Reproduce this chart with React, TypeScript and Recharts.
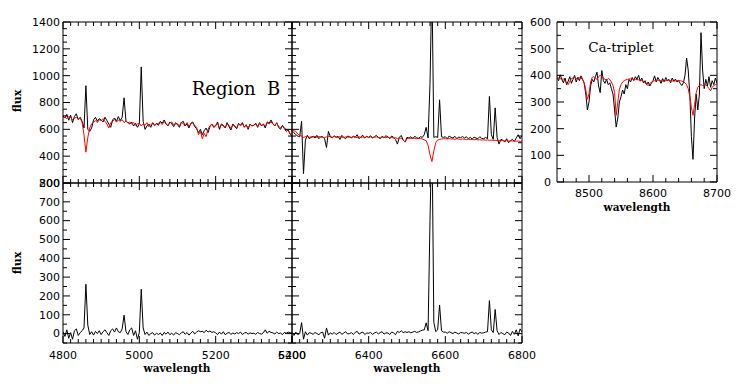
import { Line, LineChart, ReferenceArea, XAxis, YAxis } from "recharts";

// Region B (4800-5400 A), sampled every 5 A
const B_START = 4800;
const B_STEP = 5;
const regionBObs = [
  700, 685, 712, 668, 705, 650, 695, 716, 672, 690,
  660, 610, 925, 600, 585, 610, 670, 690, 660, 680,
  670, 655, 690, 665, 640, 615, 670, 685, 660, 695,
  665, 690, 835, 660, 650, 640, 655, 625, 645, 615,
  640, 1065, 660, 600, 625, 640, 615, 650, 630, 645,
  630, 660, 645, 670, 640, 625, 655, 640, 620, 650,
  635, 615, 650, 660, 625, 640, 610, 645, 655, 620,
  605, 575, 600, 560, 590, 610, 575, 620, 640, 615,
  625, 655, 600, 640, 630, 610, 650, 620, 595, 640,
  620, 605, 645, 630, 650, 615, 635, 600, 640, 625,
  630, 645, 615, 650, 625, 640, 610, 655, 645, 670,
  640, 625, 650, 615, 600, 630, 605, 585, 595, 565, 550,
];
const regionBFit = [
  685, 690, 680, 695, 688, 672, 684, 690, 676, 682,
  655, 560, 430, 540, 610, 640, 655, 665, 650, 672,
  665, 680, 660, 640, 610, 650, 660, 675, 655, 668,
  660, 672, 650, 662, 648, 655, 640, 650, 630, 640,
  645, 625, 640, 630, 650, 620, 635, 645, 628, 640,
  645, 652, 635, 660, 640, 630, 648, 655, 632, 640,
  642, 625, 655, 640, 630, 650, 622, 640, 648, 630,
  615, 560, 585, 530, 570, 545, 600, 625, 640, 620,
  630, 645, 610, 635, 625, 615, 640, 630, 605, 632,
  625, 612, 640, 628, 638, 620, 632, 610, 635, 628,
  630, 640, 620, 645, 630, 638, 625, 648, 640, 655,
  640, 630, 645, 622, 610, 625, 612, 598, 590, 570, 545,
];
const regionBRes = [
  10, -15, 20, -25, 5, -30, 15, 25, -10, 5,
  15, 30, 262, 45, -5, 10, -8, 12, 0, 15,
  -5, 10, 20, 5, -10, 15, 25, 8, 30, 10,
  5, 25, 98, 10, -5, 20, 30, -10, 15, -30,
  5, 236, 30, -5, 8, -10, 0, 5, -8, 2,
  -5, 3, -10, 6, -3, 8, -6, 2, -8, 5,
  0, -6, 4, 10, -4, 6, -8, 3, 12, -2,
  8, 15, 10, 12, 5, 18, 8, 14, 6, 10,
  4, -5, 8, -3, 10, -6, 2, 6, -4, 3,
  -2, 5, 0, 8, -5, 3, 6, -3, 4, 0,
  2, -4, 6, 0, -3, 5, 20, 2, 12, 6,
  4, -2, 8, 0, 3, -5, 6, 2, 8, 4, 5,
];

// H-alpha region (6200-6800 A), sampled every 5 A
const HA_START = 6200;
const HA_STEP = 5;
const haObs = [
  590, 575, 560, 550, 545, 660, 270, 520, 555, 530,
  540, 548, 535, 555, 530, 545, 545, 530, 465, 585,
  545, 538, 552, 540, 548, 525, 555, 540, 530, 550,
  545, 535, 550, 540, 560, 530, 545, 555, 535, 548,
  540, 552, 535, 545, 555, 540, 530, 548, 538, 552,
  545, 530, 550, 540, 525, 490, 540, 555, 520, 505,
  540, 535, 545, 530, 548, 538, 532, 545, 540, 560,
  615, 535, 940, 1700, 540, 545, 540, 820, 545, 540,
  545, 530, 550, 540, 535, 548, 530, 542, 538, 546,
  535, 545, 530, 540, 528, 542, 535, 530, 545, 532,
  530, 540, 530, 845, 560, 525, 760, 540, 490, 525,
  520, 505, 530, 500, 515, 525, 510, 535, 560, 530, 555,
];
const haFit = [
  600, 590, 585, 565, 555, 550, 540, 545, 548, 540,
  545, 542, 548, 540, 546, 543, 540, 538, 544, 547,
  545, 541, 546, 543, 540, 545, 542, 538, 544, 541,
  543, 540, 545, 542, 538, 544, 540, 543, 539, 545,
  540, 543, 538, 541, 544, 539, 536, 542, 540, 538,
  541, 537, 540, 535, 538, 530, 536, 534, 520, 505,
  530, 535, 532, 536, 533, 530, 534, 531, 528, 520,
  515, 480, 410, 360, 440, 500, 520, 525, 528, 530,
  530, 528, 531, 527, 529, 526, 530, 527, 525, 528,
  526, 524, 527, 523, 525, 522, 524, 521, 523, 520,
  522, 519, 521, 518, 520, 517, 519, 516, 518, 515,
  517, 514, 516, 513, 515, 512, 514, 511, 513, 510, 512,
];
const haRes = [
  5, -10, 8, -5, 0, 58, -30, 10, -8, 5,
  2, -4, 6, 0, -6, 4, 8, -25, 30, -8,
  4, -3, 6, -5, 2, 8, -4, 3, 10, -2,
  0, 5, -4, 6, 12, -3, 4, 8, -5, 3,
  2, 6, -4, 3, 8, -2, 5, 10, -3, 4,
  3, -5, 8, 4, -6, 12, 6, 15, 5, 10,
  6, 10, 4, 8, 12, 6, 9, 14, 18, 20,
  57, 15, 600, 1100, 60, 10, 20, 152, 15, 8,
  8, 2, 10, 5, 0, 8, 3, -2, 6, 4,
  2, 6, -3, 4, 8, 0, 5, -4, 6, 2,
  4, 8, 10, 175, 20, 5, 128, 15, -5, 6,
  0, -6, 8, 3, -10, 12, -4, 20, -12, 25, 8,
];

// Ca-triplet (8450-8700 A), sampled every 2.5 A
const CA_START = 8450;
const CA_STEP = 2.5;
const caObs = [
  395, 380, 402, 385, 372, 390, 365, 378, 395, 370,
  385, 400, 375, 392, 380, 398, 385, 370, 330, 270,
  300, 360, 385, 375, 395, 412, 360, 335, 418, 380,
  370, 385, 365, 372, 350, 330, 270, 206, 240, 300,
  320, 345, 330, 365, 350, 385, 375, 392, 380, 395,
  385, 400, 378, 390, 372, 380, 365, 375, 360, 370,
  380, 398, 375, 392, 383, 370, 388, 376, 392, 380,
  385, 372, 390, 378, 386, 375, 380, 370, 362, 372,
  400, 465, 420, 330, 170, 85, 240, 330, 270, 330,
  560, 420, 350, 385, 360, 395, 355, 380, 365, 390,
  370,
];
const caFit = [
  392, 390, 388, 385, 386, 380, 372, 365, 378, 388,
  390, 392, 388, 390, 391, 389, 385, 372, 345, 310,
  330, 375, 392, 395, 390, 385, 395, 400, 398, 390,
  385, 382, 388, 384, 375, 362, 335, 250, 300, 348,
  365, 375, 380, 383, 385, 386, 387, 386, 385, 384,
  384, 383, 382, 380, 378, 372, 365, 362, 368, 375,
  378, 380, 381, 382, 381, 380, 379, 378, 380, 381,
  381, 380, 379, 378, 379, 380, 381, 380, 378, 376,
  372, 365, 350, 320, 280, 250, 290, 335, 355, 362,
  365, 362, 360, 365, 358, 350, 342, 355, 362, 365,
  368,
];

// labelled (major) ticks
const bWaveMajor = [4800, 5000, 5200, 5400];
const haWaveMajor = [6200, 6400, 6600, 6800];
const caWaveMajor = [8500, 8600, 8700];
const topFluxMajor = [200, 400, 600, 800, 1000, 1200, 1400];
const resFluxMajor = [0, 100, 200, 300, 400, 500, 600, 700, 800];
const caFluxMajor = [0, 100, 200, 300, 400, 500, 600];

const regionBRows = regionBObs.map((obs, i) => ({
  w: B_START + i * B_STEP,
  obs,
  fit: regionBFit[i],
  res: regionBRes[i],
}));
const haRows = haObs.map((obs, i) => ({
  w: HA_START + i * HA_STEP,
  obs,
  fit: haFit[i],
  res: haRes[i],
}));
const caRows = caObs.map((obs, i) => ({
  w: CA_START + i * CA_STEP,
  obs,
  fit: caFit[i],
}));

const PAD_L = 48;
const PAD_R = 26;
const PAD_T = 10;
const PAD_B = 30;
const MAJOR_LEN = 7;
const MINOR_LEN = 4;
const TICK_FONT = { fontFamily: "DejaVu Sans", fontSize: 11, fill: "#000" };

function steps(lo: number, hi: number, step: number) {
  const out: number[] = [];
  for (let v = Math.ceil(lo / step) * step; v <= hi + 1e-6; v += step) out.push(v);
  return out;
}

type PanelProps = {
  plot: [number, number, number, number];
  xDomain: [number, number];
  yDomain: [number, number];
  xStep: number;
  yStep: number;
  xMajor: number[];
  yMajor: number[];
  showX: boolean;
  showY: boolean;
  yGap?: number;
  xGap?: number;
  rows: any[];
  keys: { key: string; color: string }[];
};

function Panel(p: PanelProps) {
  const [px, py, pw, ph] = p.plot;
  const yGap = p.yGap ?? 3;
  const xGap = p.xGap ?? 12;

  const xTick = (props: any) => {
    const { x, y, payload } = props;
    const v = payload.value;
    const major = p.xMajor.includes(v);
    const len = major ? MAJOR_LEN : MINOR_LEN;
    return (
      <g>
        <line x1={x} y1={y} x2={x} y2={y - len} stroke="#000" />
        <line x1={x} y1={y - ph} x2={x} y2={y - ph + len} stroke="#000" />
        {p.showX && major && (
          <text x={x} y={y + xGap} dy="0.35em" textAnchor="middle" {...TICK_FONT}>
            {v}
          </text>
        )}
      </g>
    );
  };

  const yTick = (props: any) => {
    const { x, y, payload } = props;
    const v = payload.value;
    const major = p.yMajor.includes(v);
    const len = major ? MAJOR_LEN : MINOR_LEN;
    return (
      <g>
        <line x1={x} y1={y} x2={x + len} y2={y} stroke="#000" />
        <line x1={x + pw} y1={y} x2={x + pw - len} y2={y} stroke="#000" />
        {p.showY && major && (
          <text x={x - yGap} y={y} dy="0.35em" textAnchor="end" {...TICK_FONT}>
            {v}
          </text>
        )}
      </g>
    );
  };

  return (
    <div style={{ position: "absolute", left: px - PAD_L, top: py - PAD_T }}>
      <LineChart
        width={PAD_L + pw + PAD_R}
        height={PAD_T + ph + PAD_B}
        data={p.rows}
        margin={{ top: PAD_T, right: PAD_R, bottom: 0, left: 0 }}
      >
        <XAxis
          dataKey="w"
          type="number"
          domain={p.xDomain}
          allowDataOverflow
          ticks={steps(p.xDomain[0], p.xDomain[1], p.xStep)}
          interval={0}
          height={PAD_B}
          tickSize={0}
          tickMargin={0}
          axisLine={false}
          tickLine={false}
          tick={xTick}
        />
        <YAxis
          type="number"
          domain={p.yDomain}
          allowDataOverflow
          ticks={steps(p.yDomain[0], p.yDomain[1], p.yStep)}
          interval={0}
          width={PAD_L}
          tickSize={0}
          tickMargin={0}
          axisLine={false}
          tickLine={false}
          tick={yTick}
        />
        {p.keys.map((s) => (
          <Line
            key={s.key}
            dataKey={s.key}
            type="linear"
            stroke={s.color}
            strokeWidth={1}
            dot={false}
            activeDot={false}
            isAnimationActive={false}
          />
        ))}
        <ReferenceArea
          x1={p.xDomain[0]}
          x2={p.xDomain[1]}
          y1={p.yDomain[0]}
          y2={p.yDomain[1]}
          ifOverflow="visible"
          fill="none"
          stroke="#000"
          strokeWidth={1}
        />
      </LineChart>
    </div>
  );
}

const titleFont = { fontFamily: "DejaVu Serif", fontWeight: 700, fontSize: 10.5, color: "#000" };

function Text({ x, y, children, style, rotate }: any) {
  return (
    <div
      style={{
        position: "absolute",
        left: x,
        top: y,
        whiteSpace: "pre",
        lineHeight: 1,
        transform: `translate(-50%, -50%)${rotate ? " rotate(-90deg)" : ""}`,
        ...style,
      }}
    >
      {children}
    </div>
  );
}

const obsFit = [
  { key: "obs", color: "#000000" },
  { key: "fit", color: "#ff0000" },
];
const resOnly = [{ key: "res", color: "#000000" }];

export default function App() {
  return (
    <div
      style={{
        position: "absolute",
        left: 0,
        top: 0,
        width: 747,
        height: 384,
        background: "#fff",
        overflow: "hidden",
      }}
    >
      <Panel
        plot={[63, 22, 229, 161]}
        xDomain={[4800, 5400]}
        yDomain={[200, 1400]}
        xStep={20}
        yStep={50}
        xMajor={bWaveMajor}
        yMajor={topFluxMajor}
        showX={false}
        showY
        rows={regionBRows}
        keys={obsFit}
      />
      <Panel
        plot={[292, 22, 230, 161]}
        xDomain={[6200, 6800]}
        yDomain={[200, 1400]}
        xStep={20}
        yStep={50}
        xMajor={haWaveMajor}
        yMajor={topFluxMajor}
        showX={false}
        showY={false}
        rows={haRows}
        keys={obsFit}
      />
      <Panel
        plot={[63, 183, 229, 160]}
        xDomain={[4800, 5400]}
        yDomain={[-50, 800]}
        xStep={20}
        yStep={50}
        xMajor={bWaveMajor}
        yMajor={resFluxMajor}
        showX
        showY
        rows={regionBRows}
        keys={resOnly}
      />
      <Panel
        plot={[292, 183, 230, 160]}
        xDomain={[6200, 6800]}
        yDomain={[-50, 800]}
        xStep={20}
        yStep={50}
        xMajor={haWaveMajor}
        yMajor={resFluxMajor}
        showX
        showY={false}
        rows={haRows}
        keys={resOnly}
      />
      <Panel
        plot={[557, 22, 160, 160]}
        xDomain={[8450, 8700]}
        yDomain={[0, 600]}
        xStep={20}
        yStep={50}
        xMajor={caWaveMajor}
        yMajor={caFluxMajor}
        showX
        showY
        yGap={6}
        xGap={11}
        rows={caRows}
        keys={obsFit}
      />

      <Text x={16.5} y={101} rotate style={{ ...titleFont, fontSize: 11 }}>flux</Text>
      <Text x={16.5} y={263} rotate style={{ ...titleFont, fontSize: 11 }}>flux</Text>
      <Text x={177} y={368} style={titleFont}>wavelength</Text>
      <Text x={407} y={368} style={titleFont}>wavelength</Text>
      <Text x={637} y={207} style={titleFont}>wavelength</Text>
      <Text x={236} y={89} style={{ fontFamily: "DejaVu Serif", fontSize: 18, color: "#000" }}>
        {"Region  B"}
      </Text>
      <Text x={621} y={48} style={{ fontFamily: "DejaVu Serif", fontSize: 13.5, color: "#000" }}>
        Ca-triplet
      </Text>
    </div>
  );
}
